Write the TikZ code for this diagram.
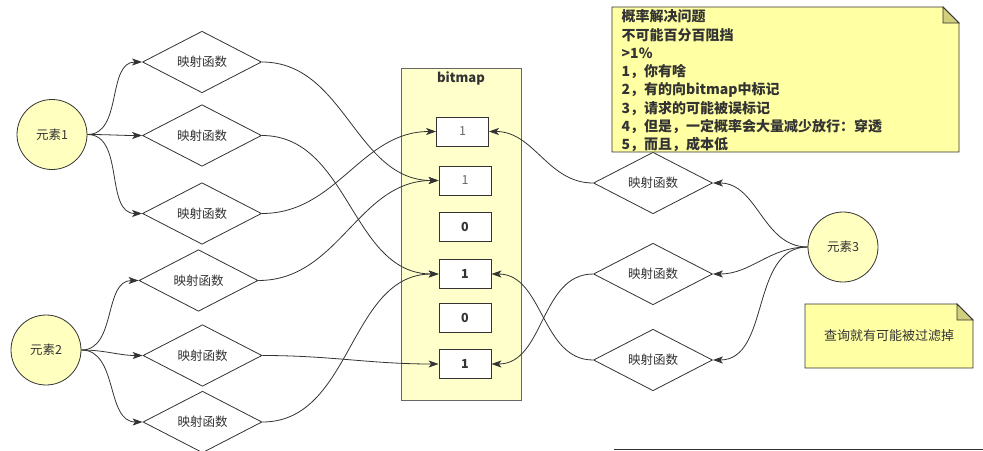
\documentclass[tikz,border=0pt]{standalone}
\usepackage{fontspec}
\setmainfont{Noto Sans CJK SC}
\usetikzlibrary{shapes.geometric,arrows.meta}
\definecolor{ln}{HTML}{333333}
\definecolor{txt}{HTML}{333333}
\definecolor{graytxt}{HTML}{666666}
\definecolor{elemfill}{HTML}{FFFFC0}
\definecolor{boxfill}{HTML}{FFFFCC}
\definecolor{boxline}{HTML}{666666}
\definecolor{notefill}{HTML}{FFFFA3}
\definecolor{foldfill}{HTML}{CFCF7D}
\begin{document}
\begin{tikzpicture}[x=1pt,y=-1pt,
  elem/.style={circle, draw=ln, fill=elemfill, line width=0.8pt, minimum size=70pt, inner sep=0pt, text=txt, font=\fontsize{12.5}{15}\selectfont},
  hashfn/.style={diamond, draw=ln, fill=white, line width=0.8pt, minimum width=119pt, minimum height=43pt, inner sep=0pt, text=txt, font=\fontsize{12.5}{15}\selectfont},
  cellbox/.style={rectangle, draw=ln, fill=white, line width=0.8pt, minimum width=52pt, minimum height=29pt, inner sep=0pt, font=\fontsize{12.5}{15}\selectfont},
  softbit/.style={cellbox, text=graytxt},
  hardbit/.style={cellbox, text=txt, font=\fontsize{12.5}{15}\selectfont\bfseries},
  container/.style={rectangle, draw=boxline, fill=boxfill, line width=0.8pt, minimum width=120pt, minimum height=332pt, inner sep=0pt},
  notebody/.style={draw=ln, fill=notefill, line width=0.8pt},
  notefold/.style={draw=ln, fill=foldfill, line width=0.8pt, line join=miter},
  conn/.style={draw=ln, line width=0.8pt, -{Stealth[length=10pt,width=7pt,inset=2.5pt]}}
]
\useasboundingbox (0,0) rectangle (983,450);

% bitmap container
\node[container] (bm) at (461,234) {};
\node[text=txt, font=\fontsize{13}{15}\selectfont\bfseries] (bmt) at (461,78) {bitmap};

% cells
\node[softbit] (c1) at (462.5,131.5) {1};
\node[softbit] (c2) at (465,180.5) {1};
\node[hardbit] (c3) at (465,227) {0};
\node[hardbit] (c4) at (465,274) {1};
\node[hardbit] (c5) at (465,318) {0};
\node[hardbit] (c6) at (465,364) {1};

% elements
\node[elem] (e1) at (52,134.5) {元素1};
\node[elem] (e2) at (46,350) {元素2};
\node[elem] (e3) at (843,247) {元素3};

% hash functions
\node[hashfn] (d1) at (202,62) {映射函数};
\node[hashfn] (d2) at (202,135.5) {映射函数};
\node[hashfn] (d3) at (202,213.5) {映射函数};
\node[hashfn] (d4) at (198.5,280.5) {映射函数};
\node[hashfn] (d5) at (202.5,355.5) {映射函数};
\node[hashfn] (d6) at (202.5,422) {映射函数};
\node[hashfn] (d7) at (653,183) {映射函数};
\node[hashfn] (d8) at (653,274) {映射函数};
\node[hashfn] (d9) at (653,360) {映射函数};

% connectors element 1
\draw[conn] (e1.east) to[out=0,in=180] (d1.west);
\draw[conn] (e1.east) to[out=0,in=180] (d2.west);
\draw[conn] (e1.east) to[out=0,in=180] (d3.west);
% connectors element 2
\draw[conn] (e2.east) to[out=0,in=180] (d4.west);
\draw[conn] (e2.east) to[out=0,in=180] (d5.west);
\draw[conn] (e2.east) to[out=0,in=180] (d6.west);
% connectors element 3
\draw[conn] (e3.west) to[out=180,in=0] (d7.east);
\draw[conn] (e3.west) to[out=180,in=0] (d8.east);
\draw[conn] (e3.west) to[out=180,in=0] (d9.east);

% hash to bitmap
\draw[conn] (d1.east) to[out=0,in=180] (c2.west);
\draw[conn] (d2.east) to[out=0,in=180] (c4.west);
\draw[conn] (d3.east) to[out=0,in=180] (c1.west);
\draw[conn] (d4.east) to[out=0,in=180] (c2.west);
\draw[conn] (d5.east) to[out=0,in=180] (c6.west);
\draw[conn] (d6.east) to[out=0,in=180] (c4.west);
\draw[conn] (d7.west) to[out=180,in=0] (c1.east);
\draw[conn] (d8.west) to[out=180,in=0] (c6.east);
\draw[conn] (d9.west) to[out=180,in=0] (c4.east);

% note 1
\draw[notebody] (612,7) -- (943,7) -- (959,23) -- (959,152) -- (612,152) -- cycle;
\draw[notefold] (943,7) -- (943,23) -- (959,23) -- cycle;
\node[anchor=north west, inner sep=0pt, align=left, text=txt,
      font=\fontsize{14}{18.3}\selectfont\bfseries] (n1) at (621.5,9.5)
  {概率解决问题\\不可能百分百阻挡\\>1\%\\1，你有啥\\2，有的向bitmap中标记\\3，请求的可能被误标记\\4，但是，一定概率会大量减少放行：穿透\\5，而且，成本低};

% note 2
\draw[notebody] (805,304) -- (957,304) -- (973,320) -- (973,368) -- (805,368) -- cycle;
\draw[notefold] (957,304) -- (957,320) -- (973,320) -- cycle;
\node[text=txt, font=\fontsize{13}{15}\selectfont] (n2) at (889,336) {查询就有可能被过滤掉};

% bottom rule
\coordinate (r1) at (614,449);
\coordinate (r2) at (983,449);
\draw[ln, line width=0.9pt] (r1) -- (r2);
\end{tikzpicture}
\end{document}
